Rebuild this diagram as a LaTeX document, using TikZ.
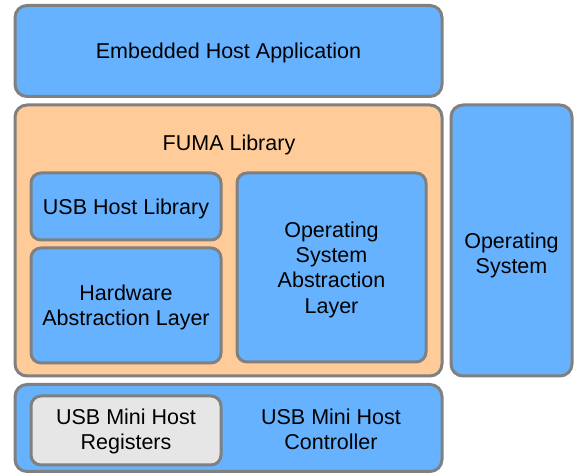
\documentclass[tikz,border=0pt]{standalone}
\usepackage{fontspec}
\setmainfont{Liberation Sans}
\definecolor{boxblue}{HTML}{66B2FF}
\definecolor{boxorange}{HTML}{FFCC99}
\definecolor{boxgray}{HTML}{E6E6E6}
\definecolor{edgegray}{HTML}{808080}
\tikzset{
  blk/.style={draw=edgegray, line width=3pt, rounded corners=12pt, inner sep=0pt, align=center,
    text depth=0pt, font=\fontsize{21.5}{25.3}\selectfont},
  inblk/.style={blk, rounded corners=10pt},
  lbl/.style={inner sep=0pt, align=center, text depth=0pt, font=\fontsize{21.5}{25.3}\selectfont},
}
\begin{document}
\begin{tikzpicture}[x=1pt,y=-1pt]
\useasboundingbox (0,0) rectangle (574,473);
% outer boxes
\node[blk, fill=boxblue, minimum width=427pt, minimum height=91pt] (app) at (228.5,51) {Embedded Host Application};
\node[blk, fill=boxorange, minimum width=427pt, minimum height=271pt] (fuma) at (228.5,240.5) {};
\node[lbl] (fumalbl) at (229,143) {FUMA Library};
\node[blk, fill=boxblue, minimum width=121pt, minimum height=271pt] (os) at (511.5,240.5) {};
\node[lbl] (oslbl) at (511.5,253) {Operating\\System};
\node[blk, fill=boxblue, minimum width=427pt, minimum height=87pt] (ctrl) at (228.5,428) {};
% inner boxes
\node[inblk, fill=boxblue, minimum width=190pt, minimum height=67pt] (usblib) at (126,206.5) {USB Host Library};
\node[inblk, fill=boxblue, minimum width=190pt, minimum height=115pt] (hal) at (126,305.5) {Hardware\\Abstraction Layer};
\node[inblk, fill=boxblue, minimum width=189pt, minimum height=189pt] (osal) at (331.5,267.5) {Operating\\System\\Abstraction\\Layer};
\node[inblk, fill=boxgray, minimum width=190pt, minimum height=69pt] (regs) at (126,430.5) {};
\node[lbl] (regslbl) at (126,429) {USB Mini Host\\Registers};
\node[lbl] (ctrllbl) at (331,429) {USB Mini Host\\Controller};
\end{tikzpicture}
\end{document}
